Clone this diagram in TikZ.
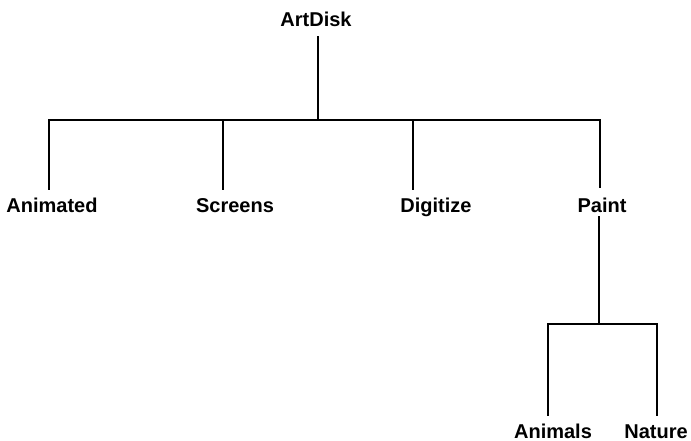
\documentclass[tikz,border=0pt]{standalone}
\usepackage{fontspec}
\setmainfont{Liberation Sans}
\begin{document}
\begin{tikzpicture}[x=1pt,y=-1pt,
  lbl/.style={font=\fontsize{20}{24}\selectfont\bfseries, anchor=base, inner sep=0pt, text depth=0pt},
  conn/.style={line width=1.3pt, line cap=rect}]
\useasboundingbox (0,0) rectangle (691,441);
% labels
\node[lbl] (artdisk) at (316,27) {ArtDisk};
\node[lbl] (animated) at (52,212) {Animated};
\node[lbl] (screens) at (235,212) {Screens};
\node[lbl] (digitize) at (436,212) {Digitize};
\node[lbl] (paint) at (602,212) {Paint};
\node[lbl] (animals) at (553,438) {Animals};
\node[lbl] (nature) at (656,438) {Nature};
% junction coordinates
\coordinate (rtop) at (318,37);
\coordinate (rj) at (318,120);
\coordinate (aj) at (49,120);
\coordinate (ab) at (49,189);
\coordinate (sj) at (223,120);
\coordinate (sb) at (223,189);
\coordinate (dj) at (413,120);
\coordinate (db) at (413,189);
\coordinate (pj) at (600,120);
\coordinate (pb) at (600,187);
\coordinate (ptop) at (599,217);
\coordinate (pj2) at (599,324);
\coordinate (anj) at (548,324);
\coordinate (anb) at (548,415);
\coordinate (naj) at (657,324);
\coordinate (nab) at (657,415);
% connectors
\draw[conn] (rtop) -- (rj);
\draw[conn] (ab) -- (aj) -- (pj) -- (pb);
\draw[conn] (sj) -- (sb);
\draw[conn] (dj) -- (db);
\draw[conn] (ptop) -- (pj2);
\draw[conn] (anb) -- (anj) -- (naj) -- (nab);
\end{tikzpicture}
\end{document}
